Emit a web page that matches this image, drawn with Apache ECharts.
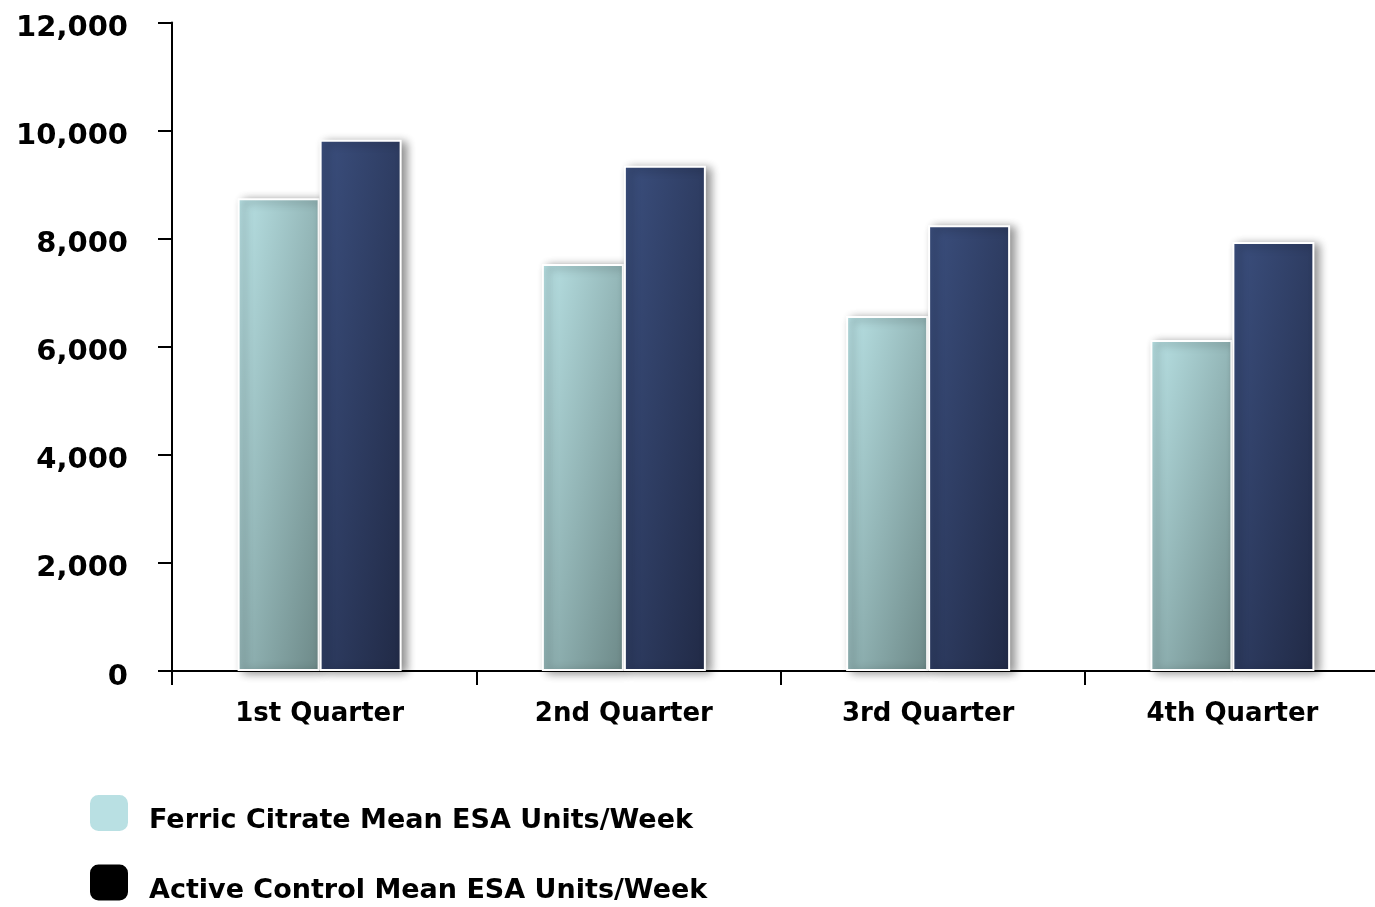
<!DOCTYPE html>
<html>
<head>
<meta charset="utf-8">
<style>
  html, body { margin: 0; padding: 0; background: #ffffff; }
  #chart { width: 1375px; height: 907px; }
</style>
<script src="https://cdn.jsdelivr.net/npm/echarts@6/dist/echarts.min.js"></script>
</head>
<body>
<div id="chart"></div>
<script>
// Mean ESA usage per quarter
var quarters = ['1st Quarter', '2nd Quarter', '3rd Quarter', '4th Quarter'];
var ferricCitrate = [8750, 7530, 6570, 6125];
var activeControl = [9830, 9350, 8250, 7940];
var seriesNames = ['Ferric Citrate Mean ESA Units/Week', 'Active Control Mean ESA Units/Week'];
var yTicks = { min: 0, max: 12000, interval: 2000 };

var FONT = 'DejaVu Sans';
var BAR_W = 82;
var PLOT_H = 648.5;

// Corner-to-corner shading: the light corner sits top-left, the dark one
// bottom-right, and the other two corners sit halfway, whatever the bar's size.
function cornerShade(c0, c1) {
  return function (params) {
    var h = Math.max(1, params.value / yTicks.max * PLOT_H);
    var r = BAR_W / h;
    var dx = 2 / (1 + r * r);
    var dy = 2 / (1 + 1 / (r * r));
    return new echarts.graphic.LinearGradient(0, 0, dx, dy, [
      { offset: 0, color: c0 },
      { offset: 1, color: c1 }
    ]);
  };
}

function barStyle(c0, c1) {
  return {
    color: cornerShade(c0, c1),
    borderColor: '#ffffff',
    borderWidth: 2,
    shadowColor: 'rgba(0,0,0,0.45)',
    shadowBlur: 9,
    shadowOffsetX: 5,
    shadowOffsetY: 2
  };
}

function withCommas(v) {
  return v.toString().replace(/\B(?=(\d{3})+(?!\d))/g, ',');
}

var chart = echarts.init(document.getElementById('chart'), null, { renderer: 'canvas' });

chart.setOption({
  animation: false,
  backgroundColor: '#ffffff',
  grid: [
    { left: 167.5, top: 22.5, width: 1217, bottom: 236, containLabel: false, outerBoundsMode: 'none' },
    { left: 172, top: 22.5, width: 1217, bottom: 236, containLabel: false, outerBoundsMode: 'none' }
  ],
  legend: {
    orient: 'vertical',
    left: 88,
    top: 793,
    height: 160,
    padding: 0,
    itemWidth: 40,
    itemHeight: 38,
    itemGap: 28,
    icon: 'roundRect',
    selectedMode: false,
    formatter: '{n|{name}}',
    textStyle: {
      fontFamily: FONT,
      fontWeight: 'bold',
      fontSize: 27,
      color: '#000000',
      rich: {
        n: {
          fontFamily: FONT,
          fontWeight: 'bold',
          fontSize: 27,
          color: '#000000',
          padding: [16, 0, 0, 15]
        }
      }
    },
    data: [
      { name: seriesNames[0], itemStyle: { color: '#b9e0e3' } },
      { name: seriesNames[1], itemStyle: { color: '#000000' } }
    ]
  },
  xAxis: [
    {
      type: 'category',
      gridIndex: 0,
      data: quarters,
      axisLine: { show: false },
      axisTick: { show: false },
      axisLabel: {
        margin: 30,
        fontFamily: FONT,
        fontWeight: 'bold',
        fontSize: 26,
        color: '#000000',
        interval: 0
      }
    },
    {
      type: 'category',
      gridIndex: 1,
      data: quarters,
      axisLine: { show: true, lineStyle: { color: '#000000', width: 2 } },
      axisTick: { show: true, length: 14, interval: 0, lineStyle: { color: '#000000', width: 2 } },
      axisLabel: { show: false }
    }
  ],
  yAxis: [
    {
      type: 'value',
      gridIndex: 0,
      offset: -4.5,
      min: yTicks.min,
      max: yTicks.max,
      interval: yTicks.interval,
      splitLine: { show: false },
      axisLine: { show: true, lineStyle: { color: '#000000', width: 2 } },
      axisTick: { show: true, length: 14, lineStyle: { color: '#000000', width: 2 } },
      axisLabel: {
        margin: 44,
        fontFamily: FONT,
        fontWeight: 'bold',
        fontSize: 29,
        color: '#000000',
        formatter: function (v) { return '{v|' + withCommas(v) + '}'; },
        rich: {
          v: {
            fontFamily: FONT,
            fontWeight: 'bold',
            fontSize: 29,
            color: '#000000',
            padding: [12, 0, 0, 0]
          }
        }
      }
    },
    {
      type: 'value',
      gridIndex: 1,
      min: yTicks.min,
      max: yTicks.max,
      show: false
    }
  ],
  series: [
    {
      name: seriesNames[0],
      type: 'bar',
      xAxisIndex: 0,
      yAxisIndex: 0,
      data: ferricCitrate,
      barWidth: BAR_W,
      barGap: '0%',
      itemStyle: barStyle('#b9e2e5', '#6d8988')
    },
    {
      name: seriesNames[1],
      type: 'bar',
      xAxisIndex: 0,
      yAxisIndex: 0,
      data: activeControl,
      barWidth: BAR_W,
      barGap: '0%',
      itemStyle: barStyle('#3b4f7e', '#212a46')
    }
  ]
});
</script>
</body>
</html>
